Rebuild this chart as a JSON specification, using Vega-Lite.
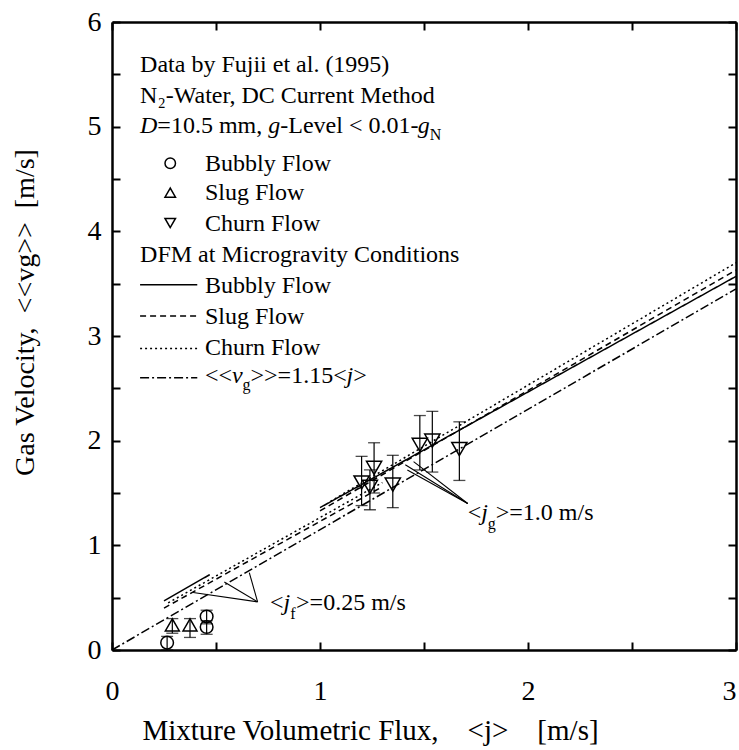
{
  "$schema": "https://vega.github.io/schema/vega-lite/v6.json",
  "width": 624,
  "height": 628,
  "autosize": {"type": "none"},
  "padding": {"left": 112, "top": 22, "right": 3, "bottom": 100},
  "background": "white",
  "config": {"view": {"stroke": null}, "font": "Liberation Serif"},
  "datasets": {
    "lines": [
      {"seg": "fit", "style": "dashdot", "x": 0, "y": 0},
      {"seg": "fit", "style": "dashdot", "x": 3, "y": 3.45},
      {"seg": "a_bub", "style": "solid", "x": 0.25, "y": 0.47},
      {"seg": "a_bub", "style": "solid", "x": 0.47, "y": 0.72},
      {"seg": "a_slug", "style": "dashed", "x": 0.25, "y": 0.40},
      {"seg": "a_slug", "style": "dashed", "x": 1.30, "y": 1.56},
      {"seg": "a_churn", "style": "dotted", "x": 0.27, "y": 0.45},
      {"seg": "a_churn", "style": "dotted", "x": 1.30, "y": 1.60},
      {"seg": "b_bub", "style": "solid", "x": 1.0, "y": 1.36},
      {"seg": "b_bub", "style": "solid", "x": 3.0, "y": 3.57},
      {"seg": "b_slug", "style": "dashed", "x": 1.0, "y": 1.33},
      {"seg": "b_slug", "style": "dashed", "x": 3.0, "y": 3.63},
      {"seg": "b_churn", "style": "dotted", "x": 1.05, "y": 1.42},
      {"seg": "b_churn", "style": "dotted", "x": 3.0, "y": 3.70},
      {"seg": "k1", "style": "solid", "x": 0.135, "y": 3.49},
      {"seg": "k1", "style": "solid", "x": 0.41, "y": 3.49},
      {"seg": "k2", "style": "dashed", "x": 0.135, "y": 3.19},
      {"seg": "k2", "style": "dashed", "x": 0.41, "y": 3.19},
      {"seg": "k3", "style": "dotted", "x": 0.135, "y": 2.88},
      {"seg": "k3", "style": "dotted", "x": 0.41, "y": 2.88},
      {"seg": "k4", "style": "dashdot", "x": 0.135, "y": 2.60},
      {"seg": "k4", "style": "dashdot", "x": 0.41, "y": 2.60}
    ],
    "points": [
      {"flow": "Bubbly", "x": 0.265, "y": 0.07, "lo": 0.0, "hi": 0.13},
      {"flow": "Bubbly", "x": 0.455, "y": 0.32, "lo": 0.25, "hi": 0.38},
      {"flow": "Bubbly", "x": 0.455, "y": 0.22, "lo": 0.15, "hi": 0.28},
      {"flow": "Slug", "x": 0.29, "y": 0.24, "lo": 0.16, "hi": 0.30},
      {"flow": "Slug", "x": 0.375, "y": 0.24, "lo": 0.12, "hi": 0.30},
      {"flow": "Churn", "x": 1.20, "y": 1.60, "lo": 1.38, "hi": 1.85},
      {"flow": "Churn", "x": 1.26, "y": 1.74, "lo": 1.50, "hi": 1.98},
      {"flow": "Churn", "x": 1.24, "y": 1.56, "lo": 1.34, "hi": 1.72},
      {"flow": "Churn", "x": 1.35, "y": 1.58, "lo": 1.36, "hi": 1.86},
      {"flow": "Churn", "x": 1.48, "y": 1.96, "lo": 1.72, "hi": 2.24},
      {"flow": "Churn", "x": 1.54, "y": 2.00, "lo": 1.70, "hi": 2.28},
      {"flow": "Churn", "x": 1.67, "y": 1.92, "lo": 1.62, "hi": 2.18}
    ],
    "keys": [
      {"flow": "Bubbly", "x": 0.28, "y": 4.65},
      {"flow": "Slug", "x": 0.28, "y": 4.37},
      {"flow": "Churn", "x": 0.28, "y": 4.08}
    ],
    "arrows": [
      {"x": 0.70, "y": 0.46, "x2": 0.39, "y2": 0.55},
      {"x": 0.70, "y": 0.46, "x2": 0.54, "y2": 0.65},
      {"x": 0.70, "y": 0.46, "x2": 0.66, "y2": 0.74},
      {"x": 1.71, "y": 1.40, "x2": 1.41, "y2": 1.77},
      {"x": 1.71, "y": 1.40, "x2": 1.45, "y2": 1.80},
      {"x": 1.71, "y": 1.40, "x2": 1.42, "y2": 1.72}
    ],
    "labels": [
      {"x": 0.135, "y": 5.52, "t": "Data by Fujii et al. (1995)"},
      {"x": 0.135, "y": 5.23, "t": "N₂-Water, DC Current Method"},
      {"x": 0.218, "y": 4.94, "t": "=10.5 mm,"},
      {"x": 0.809, "y": 4.94, "t": "-Level < 0.01-"},
      {"x": 0.447, "y": 4.58, "t": "Bubbly Flow"},
      {"x": 0.447, "y": 4.30, "t": "Slug Flow"},
      {"x": 0.447, "y": 4.00, "t": "Churn Flow"},
      {"x": 0.135, "y": 3.71, "t": "DFM at Microgravity Conditions"},
      {"x": 0.447, "y": 3.41, "t": "Bubbly Flow"},
      {"x": 0.447, "y": 3.11, "t": "Slug Flow"},
      {"x": 0.447, "y": 2.82, "t": "Churn Flow"},
      {"x": 0.447, "y": 2.55, "t": "<<"},
      {"x": 0.666, "y": 2.55, "t": ">>=1.15<"},
      {"x": 1.160, "y": 2.55, "t": ">"},
      {"x": 0.76, "y": 0.38, "t": "<"},
      {"x": 0.885, "y": 0.38, "t": ">=0.25 m/s"},
      {"x": 1.71, "y": 1.24, "t": "<"},
      {"x": 1.845, "y": 1.24, "t": ">=1.0 m/s"}
    ],
    "italics": [
      {"x": 0.135, "y": 4.94, "t": "D"},
      {"x": 0.751, "y": 4.94, "t": "g"},
      {"x": 1.470, "y": 4.94, "t": "g"},
      {"x": 0.577, "y": 2.55, "t": "v"},
      {"x": 1.128, "y": 2.55, "t": "j"},
      {"x": 0.825, "y": 0.38, "t": "j"},
      {"x": 1.775, "y": 1.24, "t": "j"}
    ],
    "subs": [
      {"x": 1.528, "y": 4.87, "t": "N"},
      {"x": 0.628, "y": 2.48, "t": "g"},
      {"x": 0.857, "y": 0.30, "t": "f"},
      {"x": 1.807, "y": 1.16, "t": "g"}
    ]
  },
  "layer": [
    {
      "data": {"name": "lines"},
      "mark": {"type": "line", "color": "black", "strokeWidth": 1.5},
      "encoding": {
        "x": {
          "field": "x", "type": "quantitative",
          "scale": {"domain": [0, 3], "nice": false, "zero": false},
          "axis": {
            "orient": "bottom",
            "values": [0, 0.5, 1, 1.5, 2, 2.5, 3],
            "labelExpr": "datum.value % 1 === 0 ? format(datum.value, 'd') : ''",
            "grid": false,
            "domainColor": "black", "domainWidth": 2.5,
            "tickColor": "black", "tickWidth": 2, "tickSize": -8,
            "labelPadding": 35, "labelFontSize": 28, "labelFont": "Liberation Serif", "labelColor": "black",
            "labelBaseline": "top", "labelFlush": false, "labelOverlap": false,
            "labelAlign": {"condition": {"test": "datum.value === 3", "value": "right"}, "value": "center"},
            "title": "Mixture Volumetric Flux,\u00a0\u00a0\u00a0\u00a0<j>\u00a0\u00a0\u00a0\u00a0[m/s]",
            "titleFontSize": 29, "titleFont": "Liberation Serif", "titleFontWeight": "normal", "titleColor": "black",
            "titleX": 258, "titleY": 89, "titleBaseline": "alphabetic", "titleAnchor": "middle"
          }
        },
        "y": {
          "field": "y", "type": "quantitative",
          "scale": {"domain": [0, 6], "nice": false, "zero": false},
          "axis": {
            "orient": "left",
            "values": [0, 0.5, 1, 1.5, 2, 2.5, 3, 3.5, 4, 4.5, 5, 5.5, 6],
            "labelExpr": "datum.value % 1 === 0 ? format(datum.value, 'd') : ''",
            "grid": false,
            "domainColor": "black", "domainWidth": 2.5,
            "tickColor": "black", "tickWidth": 2, "tickSize": -8,
            "labelPadding": 19, "labelFontSize": 28, "labelFont": "Liberation Serif", "labelColor": "black",
            "labelFlush": false, "labelOverlap": false,
            "title": "Gas Velocity,\u00a0\u00a0<<vg>>\u00a0\u00a0[m/s]",
            "titleFontSize": 28, "titleFont": "Liberation Serif", "titleFontWeight": "normal", "titleColor": "black",
            "titleX": -87, "titleY": 290, "titleBaseline": "middle", "titleAnchor": "middle", "titleAngle": -90
          }
        },
        "detail": {"field": "seg", "type": "nominal"},
        "strokeDash": {
          "field": "style", "type": "nominal",
          "scale": {"domain": ["solid", "dashed", "dotted", "dashdot"], "range": [[1, 0], [6, 4], [2, 3], [9, 3, 2, 3]]},
          "legend": null
        }
      }
    },
    {
      "data": {"name": "arrows"},
      "mark": {"type": "rule", "color": "black", "strokeWidth": 1.1},
      "encoding": {
        "x": {
          "field": "x", "type": "quantitative",
          "axis": {
            "orient": "top", "values": [0, 0.5, 1, 1.5, 2, 2.5, 3], "labels": false, "title": null, "grid": false,
            "domainColor": "black", "domainWidth": 2.5, "tickColor": "black", "tickWidth": 2, "tickSize": -8
          }
        },
        "y": {
          "field": "y", "type": "quantitative",
          "axis": {
            "orient": "right", "values": [0, 0.5, 1, 1.5, 2, 2.5, 3, 3.5, 4, 4.5, 5, 5.5, 6], "labels": false, "title": null, "grid": false,
            "domainColor": "black", "domainWidth": 2.5, "tickColor": "black", "tickWidth": 2, "tickSize": -8
          }
        },
        "x2": {"field": "x2"},
        "y2": {"field": "y2"}
      }
    },
    {
      "data": {"name": "points"},
      "mark": {"type": "rule", "color": "black", "strokeWidth": 1.2},
      "encoding": {
        "x": {"field": "x", "type": "quantitative", "axis": null},
        "y": {"field": "lo", "type": "quantitative", "axis": null},
        "y2": {"field": "hi"}
      }
    },
    {
      "data": {"name": "points"},
      "mark": {"type": "tick", "orient": "horizontal", "color": "black", "size": 12, "thickness": 1.3},
      "encoding": {
        "x": {"field": "x", "type": "quantitative", "axis": null},
        "y": {"field": "hi", "type": "quantitative", "axis": null}
      }
    },
    {
      "data": {"name": "points"},
      "mark": {"type": "tick", "orient": "horizontal", "color": "black", "size": 12, "thickness": 1.3},
      "encoding": {
        "x": {"field": "x", "type": "quantitative", "axis": null},
        "y": {"field": "lo", "type": "quantitative", "axis": null}
      }
    },
    {
      "data": {"name": "points"},
      "mark": {"type": "point", "filled": false, "color": "black", "strokeWidth": 1.5, "opacity": 1},
      "encoding": {
        "x": {"field": "x", "type": "quantitative", "axis": null},
        "y": {"field": "y", "type": "quantitative", "axis": null},
        "shape": {"field": "flow", "type": "nominal", "scale": {"domain": ["Bubbly", "Slug", "Churn"], "range": ["circle", "triangle-up", "triangle-down"]}, "legend": null},
        "size": {"field": "flow", "type": "nominal", "scale": {"domain": ["Bubbly", "Slug", "Churn"], "range": [160, 230, 440]}, "legend": null}
      }
    },
    {
      "data": {"name": "keys"},
      "mark": {"type": "point", "filled": false, "color": "black", "strokeWidth": 1.5, "opacity": 1, "size": 110},
      "encoding": {
        "x": {"field": "x", "type": "quantitative", "axis": null},
        "y": {"field": "y", "type": "quantitative", "axis": null},
        "shape": {"field": "flow", "type": "nominal", "legend": null}
      }
    },
    {
      "data": {"name": "labels"},
      "mark": {"type": "text", "align": "left", "baseline": "alphabetic", "fontSize": 24, "font": "Liberation Serif", "color": "black"},
      "encoding": {
        "x": {"field": "x", "type": "quantitative", "axis": null},
        "y": {"field": "y", "type": "quantitative", "axis": null},
        "text": {"field": "t"}
      }
    },
    {
      "data": {"name": "italics"},
      "mark": {"type": "text", "align": "left", "baseline": "alphabetic", "fontSize": 24, "fontStyle": "italic", "font": "Liberation Serif", "color": "black"},
      "encoding": {
        "x": {"field": "x", "type": "quantitative", "axis": null},
        "y": {"field": "y", "type": "quantitative", "axis": null},
        "text": {"field": "t"}
      }
    },
    {
      "data": {"name": "subs"},
      "mark": {"type": "text", "align": "left", "baseline": "alphabetic", "fontSize": 16, "font": "Liberation Serif", "color": "black"},
      "encoding": {
        "x": {"field": "x", "type": "quantitative", "axis": null},
        "y": {"field": "y", "type": "quantitative", "axis": null},
        "text": {"field": "t"}
      }
    }
  ],
  "resolve": {"axis": {"x": "independent", "y": "independent"}}
}
